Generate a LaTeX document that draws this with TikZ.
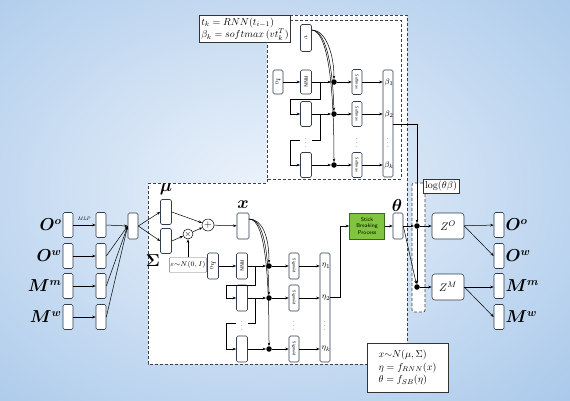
\documentclass[tikz,border=0pt]{standalone}
\usepackage{amsmath,amssymb}
\usepackage{bm}
\usepackage{xcolor}
\usepackage{graphicx}
\usepackage{tikz}
\usetikzlibrary{arrows.meta, shapes.geometric, positioning, calc}

\definecolor{bgin}{RGB}{236,243,251}
\definecolor{bgout}{RGB}{156,192,231}
\definecolor{boxline}{RGB}{48,62,80}
\definecolor{sbfill}{RGB}{128,196,64}
\definecolor{sbline}{RGB}{56,104,28}
\newcommand{\vlab}[1]{\rotatebox{-90}{#1}}

\begin{document}
\begin{tikzpicture}[x=1pt, y=-1pt,
    cell/.style={draw=boxline, fill=white, rounded corners=1.5pt, line width=0.6pt,
        minimum width=10pt, minimum height=25pt, inner sep=0pt},
    arr/.style={-{Stealth[length=3.5pt,width=2.6pt]}, line width=0.5pt},
    ln/.style={line width=0.5pt},
    joint/.style={circle, fill=black, inner sep=0pt, minimum size=5.5pt},
    frame/.style={draw=black!75, dash pattern=on 3pt off 2pt, line width=0.7pt, fill=white},
    op/.style={circle, draw=black, fill=white, inner sep=0pt, line width=0.5pt},
    lab/.style={font=\fontsize{16}{16}\selectfont, inner sep=1pt},
    tiny/.style={font=\fontsize{4}{4}\sffamily},
    vdot/.style={font=\fontsize{6}{6}\selectfont, inner sep=0pt},
    eqbox/.style={draw=black!80, fill=white, line width=0.6pt, align=left,
        font=\fontsize{10}{12.5}\selectfont, inner sep=2pt}
]
\useasboundingbox (0,0) rectangle (570,400);
\begin{scope}
\clip (0,0) rectangle (570,400);
\shade[inner color=bgin, outer color=bgout] (-250,-180) rectangle (780,560);
\end{scope}

% frames
\draw[frame] (148,183) -- (267,183) -- (267,15) -- (407,15) -- (407,364) -- (148,364) -- cycle;
\draw[frame] (267,20) rectangle (401,179);
\node[frame, rounded corners=2pt, minimum width=13pt, minimum height=129pt, inner sep=0pt] (logcol) at (418.5,247.5) {};
\node[draw=black!80, fill=white, line width=0.6pt, inner sep=2pt, font=\fontsize{10}{10}\selectfont] (loglab) at (441,186) {$\log(\theta\beta)$};

% inputs and outputs
\foreach \y/\i/\lbl in {225/1/O^o, 256/2/O^w, 286/3/M^m, 317/4/M^w}{
    \node[cell] (in\i) at (68,\y) {};
    \node[lab, anchor=east] (inl\i) at (in\i.west) {{\boldmath$\lbl$}};
    \node[cell] (mlp\i) at (101,\y) {};
    \draw[arr] (in\i) -- (mlp\i);
    \node[cell] (out\i) at (499,\y) {};
    \node[lab, anchor=west] (outl\i) at (out\i.east) {{\boldmath$\lbl$}};
}
\node[font=\fontsize{5}{5}\itshape] (mlptag) at (84,219) {MLP};
\node[cell, minimum height=26pt] (merge) at (133,226) {};
\foreach \i in {1,...,4}
    \draw[arr] (mlp\i.east) -- (merge.west);

% encoder
\node[cell, minimum width=11pt] (mu) at (166,212) {};
\node[cell, minimum width=11pt] (sig) at (166,241) {};
\node[lab] (mulab) at (166,189) {$\bm{\mu}$};
\node[lab] (siglab) at (153,261) {$\bm{\Sigma}$};
\draw[arr] (merge.east) -- (mu.west);
\draw[arr] (merge.east) -- (sig.west);
\node[op, minimum size=10pt] (mul) at (188,234) {\fontsize{8}{8}\selectfont$\times$};
\node[op, minimum size=12pt] (plus) at (208,225) {\fontsize{10}{10}\selectfont$+$};
\node[draw=black!55, fill=white, rounded corners=1pt, minimum width=35pt, minimum height=15pt,
    inner sep=1pt, font=\fontsize{7}{7}\selectfont] (eps) at (188,265) {$\varepsilon{\sim}N(0,I)$};
\draw[arr] (sig.east) -- (mul);
\draw[arr] (eps) -- (mul);
\draw[arr] (mu.east) -- (plus);
\draw[arr] (mul) -- (plus);
\node[cell, minimum width=12pt, minimum height=26pt] (xbox) at (243,226) {};
\node[lab] (xlab) at (243,205) {$\bm{x}$};
\draw[arr] (plus) -- (xbox);

% RNN over eta
\node[cell, minimum width=11pt, minimum height=26pt, font=\fontsize{7}{7}\selectfont] (h0) at (213,266) {\vlab{$h_0$}};
\node[cell, minimum width=11pt, minimum height=26pt, font=\fontsize{5}{5}\sffamily] (rnn) at (242,266) {\vlab{RNN}};
\node[cell, minimum width=11pt, minimum height=26pt] (g2) at (242,298) {};
\node[cell, minimum width=11pt, minimum height=26pt] (g3) at (242,349) {};
\node[vdot] (gdots) at (242,323) {$\vdots$};
\node[joint] (d1) at (269,266) {};
\node[joint] (d2) at (269,298) {};
\node[joint] (d3) at (269,349) {};
\draw[arr] (h0) -- (rnn);
\draw[arr] (rnn) -- (d1);
\draw[arr] (g2) -- (d2);
\draw[arr] (g3) -- (d3);
\coordinate (fa) at (255,266);
\coordinate (fb) at (226,285);
\draw[arr] (fa) |- (fb) |- (g2.west);
\coordinate (fc) at (255,298);
\coordinate (fd) at (248,323);
\coordinate (fe) at (236,323);
\coordinate (ff) at (226,323);
\draw[ln] (fc) |- (fd);
\draw[arr] (fe) -- (ff) |- (g3.west);
\coordinate (xs) at (249,219);
\draw[arr] (xs) .. controls (262,219) and (269,236) .. (d1);
\draw[arr] (xs) .. controls (264,219) and (268,252) .. (d2);
\draw[arr] (xs) .. controls (266,219) and (269,280) .. (d3);

\node[cell, minimum height=109pt] (etacol) at (325,307.5) {};
\foreach \i/\y in {1/266, 2/298, 3/349}{
    \node[cell, minimum height=26pt, tiny] (sg\i) at (294,\y) {\vlab{Sigmoid}};
    \draw[arr] (d\i) -- (sg\i);
    \draw[arr] (sg\i) -- (sg\i -| etacol.west);
}
\node[vdot] (sgdots) at (294,323) {$\vdots$};
\node[font=\fontsize{8}{8}\selectfont] (eta1) at (326,266) {$\eta_1$};
\node[font=\fontsize{8}{8}\selectfont] (eta2) at (326,298) {$\eta_2$};
\node[vdot] (etadots) at (325,323) {$\vdots$};
\node[font=\fontsize{8}{8}\selectfont] (eta3) at (326,349) {$\eta_k$};

% stick breaking
\node[draw=sbline, fill=sbfill, line width=0.6pt, minimum width=35pt, minimum height=26pt, inner sep=0pt,
    align=center, font=\fontsize{5.5}{6.5}\sffamily] (sb) at (367,226) {Stick\\Breaking\\Process};
\coordinate (sbin) at (340,297);
\draw[arr] (etacol.east |- sbin) -- (sbin) |- (sb.west);
\node[cell, minimum height=26pt] (theta) at (398,226) {};
\node[lab] (thlab) at (397,205) {$\bm{\theta}$};
\draw[arr] (sb) -- (theta);

% attention block
\node[eqbox] (eqtop) at (245,29) {$t_k = RNN(t_{i-1})$\\$\beta_k = softmax\,(vt_k^T)$};
\node[cell, minimum width=11pt, minimum height=27pt, font=\fontsize{7}{7}\selectfont] (vbox) at (306,38) {\vlab{$v$}};
\node[cell, minimum height=24pt, font=\fontsize{7}{7}\selectfont] (t0) at (278,82) {\vlab{$t_0$}};
\node[cell, minimum width=11pt, minimum height=24pt, font=\fontsize{5}{5}\sffamily] (rnnt) at (306,82) {\vlab{RNN}};
\node[cell, minimum width=11pt, minimum height=25pt] (ht2) at (306,114) {};
\node[cell, minimum width=11pt, minimum height=25pt] (ht3) at (306,165) {};
\node[vdot] (htdots) at (306,140) {$\vdots$};
\node[joint] (e1) at (334,82) {};
\node[joint] (e2) at (334,114) {};
\node[joint] (e3) at (334,165) {};
\draw[arr] (t0) -- (rnnt);
\draw[arr] (rnnt) -- (e1);
\draw[arr] (ht2) -- (e2);
\draw[arr] (ht3) -- (e3);
\coordinate (ta) at (320,82);
\coordinate (tb) at (290,99);
\draw[arr] (ta) |- (tb) |- (ht2.west);
\coordinate (tc) at (320,114);
\coordinate (td) at (312,140);
\coordinate (te) at (300,140);
\coordinate (tf) at (290,140);
\draw[ln] (tc) |- (td);
\draw[arr] (te) -- (tf) |- (ht3.west);
\coordinate (vs) at (312,30);
\draw[arr] (vs) .. controls (326,30) and (334,55) .. (e1);
\draw[arr] (vs) .. controls (328,31) and (333,75) .. (e2);
\draw[arr] (vs) .. controls (330,32) and (334,100) .. (e3);

\node[cell, minimum height=107pt] (betacol) at (388,123.5) {};
\foreach \i/\y in {1/82, 2/114, 3/165}{
    \node[cell, minimum height=25pt, tiny] (sm\i) at (357,\y) {\vlab{Softmax}};
    \draw[arr] (e\i) -- (sm\i);
    \draw[arr] (sm\i) -- (sm\i -| betacol.west);
}
\node[vdot] (smdots) at (357,140) {$\vdots$};
\node[font=\fontsize{8}{8}\selectfont] (beta1) at (389,82) {$\beta_1$};
\node[font=\fontsize{8}{8}\selectfont] (beta2) at (389,114) {$\beta_2$};
\node[vdot] (betadots) at (388,140) {$\vdots$};
\node[font=\fontsize{8}{8}\selectfont] (beta3) at (389,165) {$\beta_k$};

% decoder
\node[joint] (j1) at (417,226) {};
\node[joint] (j2) at (417,287) {};
\coordinate (bt) at (417,124);
\draw[arr] (betacol.east |- bt) -- (bt) -- (j1);
\draw[arr] (j1) -- (j2);
\draw[arr] (theta) -- (j1);
\draw[arr] (theta.east) -- (j2);
\node[cell, minimum width=32pt, minimum height=26pt, rounded corners=3pt, font=\fontsize{11}{11}\selectfont] (zo) at (448,226) {$Z^O$};
\node[cell, minimum width=32pt, minimum height=26pt, rounded corners=3pt, font=\fontsize{11}{11}\selectfont] (zm) at (448,287) {$Z^M$};
\draw[arr] (j1) -- (zo);
\draw[arr] (j2) -- (zm);
\draw[arr] (zo) -- (out1);
\draw[arr] (zo.east) -- (out2.west);
\draw[arr] (zm) -- (zm -| out3.west);
\draw[arr] (zm.east) -- (out4.west);

\node[eqbox, minimum width=81pt, minimum height=49pt, inner xsep=8pt] (eqbot) at (407.5,367.5)
    {$x{\sim}N(\mu,\Sigma)$\\$\eta = f_{RNN}(x)$\\$\theta = f_{SB}(\eta)$};
\end{tikzpicture}
\end{document}
